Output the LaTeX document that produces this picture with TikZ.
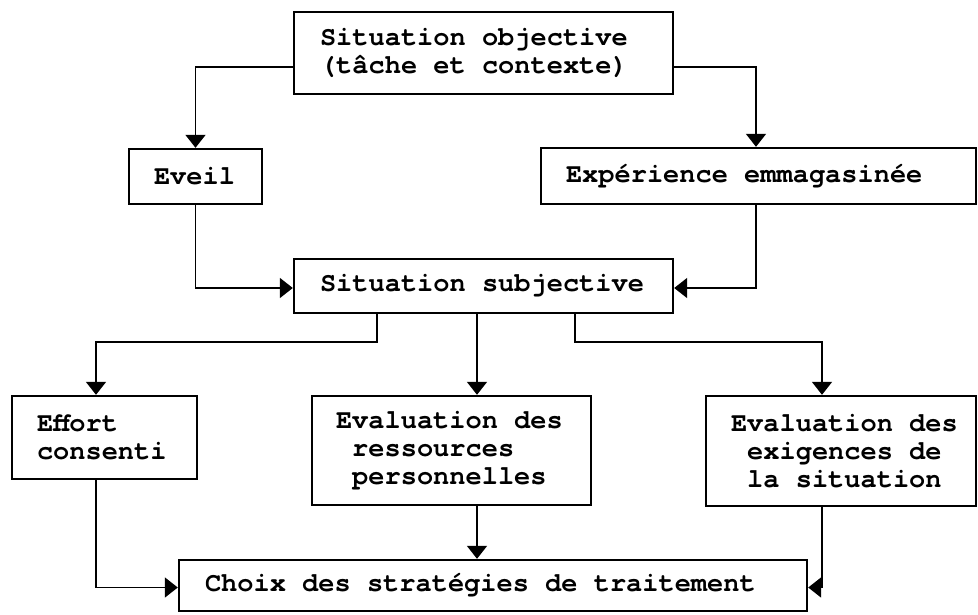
\documentclass[tikz,border=0pt]{standalone}
\usepackage{fontspec}
\setmonofont{TeX Gyre Cursor}
\usetikzlibrary{arrows.meta}
\begin{document}
\begin{tikzpicture}[x=1pt,y=-1pt,
  box/.style={draw, rectangle, line width=2.4pt, inner sep=0pt},
  lbl/.style={font=\ttfamily\bfseries\fontsize{27}{28}\selectfont, align=left, inner sep=0pt, anchor=west},
  arr/.style={line width=1.7pt, -{Triangle[width=20pt,length=13pt]}}]
\useasboundingbox (0,0) rectangle (978,614);

% boxes
\node[box, minimum width=379pt, minimum height=82pt]  (top)    at (483.5,53)  {};
\node[box, minimum width=133pt, minimum height=55pt]  (eveil)  at (195.5,176.5) {};
\node[box, minimum width=435pt, minimum height=56pt]  (exp)    at (758.5,176) {};
\node[box, minimum width=379pt, minimum height=54pt]  (subj)   at (483.5,286) {};
\node[box, minimum width=185pt, minimum height=83pt]  (effort) at (104.5,437.5) {};
\node[box, minimum width=279pt, minimum height=109pt] (res)    at (451.5,450.5) {};
\node[box, minimum width=270pt, minimum height=110pt] (exig)   at (841,451) {};
\node[box, minimum width=628pt, minimum height=51pt]  (choix)  at (493,585.5) {};

% texts
\node[lbl] (top-t)    at ([xshift=27pt]top.west)    {Situation objective\\(tâche et contexte)};
\node[lbl] (eveil-t)  at ([xshift=26pt]eveil.west)  {Eveil};
\node[lbl] (exp-t)    at ([xshift=26pt]exp.west)    {Expérience emmagasinée};
\node[lbl] (subj-t)   at ([xshift=27pt]subj.west)   {Situation subjective};
\node[lbl] (effort-t) at ([xshift=26pt]effort.west) {Effort\\consenti};
\node[lbl] (res-t)    at ([xshift=25pt]res.west)    {Evaluation des\\\phantom{x}ressources\\\phantom{x}personnelles};
\node[lbl] (exig-t)   at ([xshift=26pt]exig.west)   {Evaluation des\\\phantom{x}exigences de\\\phantom{x}la situation};
\node[lbl] (choix-t)  at ([xshift=27pt]choix.west)  {Choix des stratégies de traitement};

% connectors
\draw[arr] ([yshift=-14pt]top.west) -| (eveil.north);
\draw[arr] ([yshift=-14pt]top.east) -| ([xshift=-2.5pt]exp.north);
\draw[arr] (eveil.south) |- ([yshift=-2pt]subj.west);
\draw[arr] ([xshift=-2.5pt]exp.south) |- ([yshift=-2pt]subj.east);

\draw[arr] ([xshift=-106.5pt]subj.south) -- ++(0,28) -| ([xshift=-8.5pt]effort.north);
\draw[arr] ([xshift=-6.5pt]subj.south) -- ([xshift=-6.5pt]subj.south |- res.north);
\draw[arr] ([xshift=91.5pt]subj.south) -- ++(0,28) -| ([xshift=-19pt]exig.north);

\draw[arr] ([xshift=-8.5pt]effort.south) |- ([yshift=-2pt]choix.west);
\draw[arr] ([xshift=25.5pt]res.south) -- ([xshift=25.5pt]res.south |- choix.north);
\draw[arr] ([xshift=-19pt]exig.south) |- ([yshift=-2pt]choix.east);
\end{tikzpicture}
\end{document}
